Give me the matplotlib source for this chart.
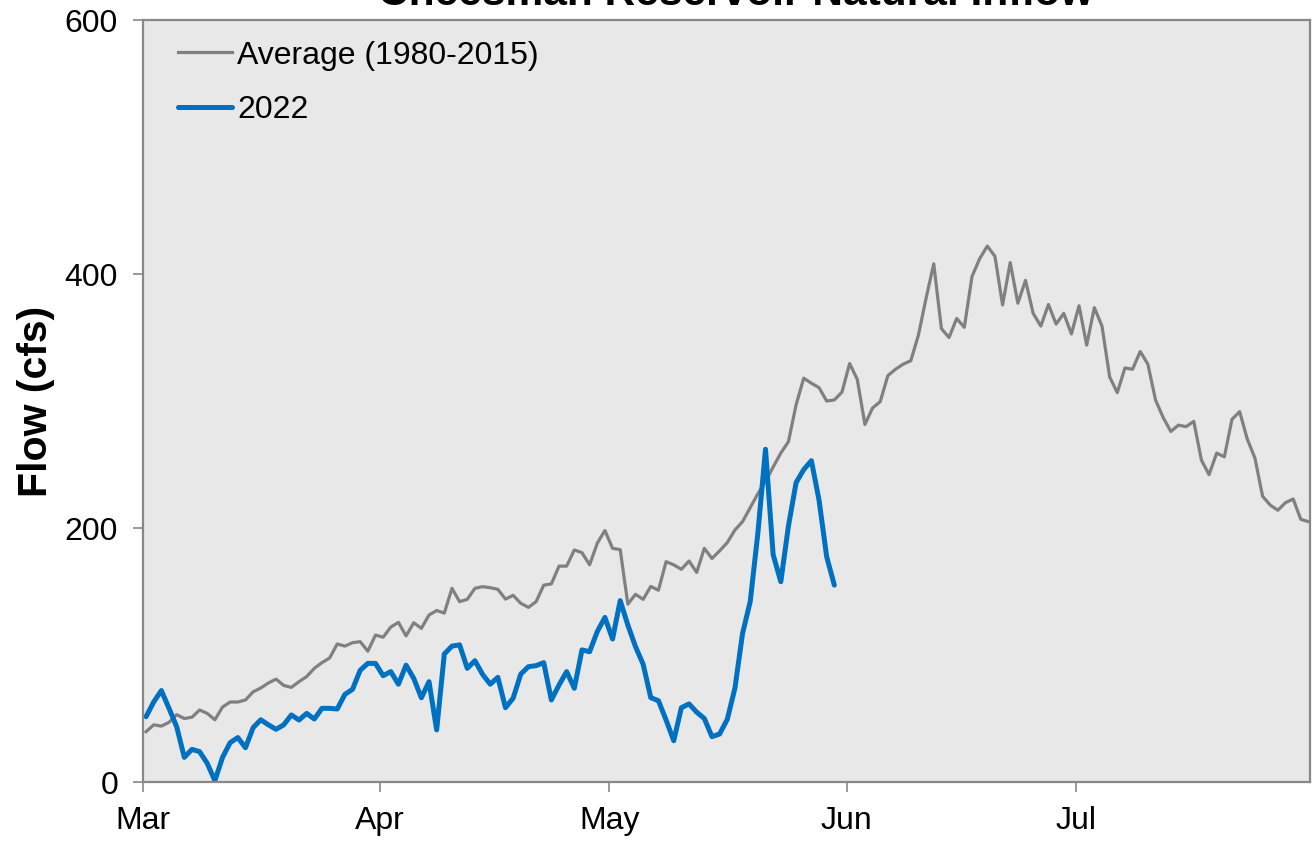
import numpy as np
import matplotlib
matplotlib.use("Agg")
import matplotlib.pyplot as plt

plt.rcParams['font.family'] = ['Liberation Sans', 'DejaVu Sans']

# Daily natural inflow (cfs), starting Mar 1
AVERAGE = [
    39.6, 45, 44, 47, 53, 50, 51, 56.7, 54, 49,
    59, 63, 63, 64.6, 71, 74, 78, 81, 76, 74.5,
    79, 83, 89.5, 94, 97.6, 108.7, 107, 109.7, 110.5, 103,
    115.7, 114, 122, 125.7, 115, 125.4, 121, 131.5, 135, 133,
    152.5, 142, 143.8, 152.5, 153.8, 153, 151.7, 144, 147, 140.7,
    137.5, 142, 155, 156, 170, 170, 182.7, 180.6, 171, 188,
    198, 184, 183, 140, 147.8, 143.8, 154, 151, 173.5, 171,
    167.5, 174, 165, 184, 176, 182, 188.5, 198.4, 205, 216,
    227, 236.5, 248, 259, 268, 297, 318, 314, 310.5, 300,
    300.8, 307, 329.5, 317, 281.5, 294.5, 299.5, 320, 325, 329,
    331.7, 352, 381, 408, 357, 350, 365, 358, 398, 412,
    422, 414, 375.6, 409, 377, 395, 369, 359, 376, 360.6,
    369, 352.8, 375, 344, 373.5, 359, 319, 306.6, 326, 325,
    339, 329, 300.8, 287, 276, 281, 279.8, 284, 253.5, 242,
    259, 256, 285.6, 291.6, 270, 255, 225, 218, 214, 220,
    222.8, 206.8, 205,
]

Y2022 = [
    51.4, 63, 72, 58, 43.6, 19.4, 25.7, 23.9, 14.7, 1,
    19.4, 31, 35, 27, 42.8, 49, 45, 41.5, 45, 52.8,
    48.8, 54, 49.6, 58, 58, 57.5, 69, 73, 88, 93.4,
    93.4, 83.7, 86.9, 77, 92, 81.6, 66.3, 79, 41, 100.8,
    107, 108, 89.5, 95.5, 84.8, 77, 82.4, 58.5, 66, 85,
    90.8, 91.6, 94, 64.6, 76.4, 86.9, 73.8, 104, 102.6, 118.4,
    129.6, 112.6, 142.8, 123.6, 106.6, 92.7, 66.4, 64, 48.8, 32.5,
    58.5, 61.5, 55, 50, 35.7, 37.8, 49.3, 73.8, 117, 142,
    195.8, 262, 179, 157.7, 201.6, 235.7, 246, 253, 222, 177.4,
    155,
]

MONTH_STARTS = [0, 31, 61, 92, 122]
MONTH_LABELS = ["Mar", "Apr", "May", "Jun", "Jul"]
Y_TICKS = [0, 200, 400, 600]

fig = plt.figure(figsize=(13.16, 8.42), dpi=100)
ax = fig.add_axes([143 / 1316, 60 / 842, 1167 / 1316, 762 / 842])
ax.set_facecolor("#E8E8E8")

ax.plot(np.arange(len(AVERAGE)), AVERAGE, color="#808080", lw=2.3,
        label="Average (1980-2015)", solid_joinstyle="round")
ax.plot(np.arange(len(Y2022)), Y2022, color="#0070C0", lw=3.6,
        label="2022", solid_joinstyle="round", solid_capstyle="round")

# month ticks sit a bit before the first sample of each month (Excel date axis)
ax.set_xlim(-0.4, 152.2)
ax.set_ylim(0, 600)
ax.set_xticks([m - 0.4 for m in MONTH_STARTS])
ax.set_xticklabels(MONTH_LABELS)
ax.set_yticks(Y_TICKS)

for sp in ax.spines.values():
    sp.set_color("#888888")
    sp.set_linewidth(1.6)
ax.tick_params(axis="both", colors="#888888", labelcolor="black",
               labelsize=23, length=7, width=1.2, direction="out")
ax.tick_params(axis="y", pad=11)
ax.tick_params(axis="x", pad=10)

ax.set_ylabel("Flow (cfs)", fontsize=29.5, fontweight="bold")
ax.yaxis.set_label_coords(-0.0754, 0.5)

fig.text(736 / 1316, 1 - 5 / 842, "Cheesman Reservoir Natural Inflow",
         ha="center", va="baseline", fontsize=30.6, fontweight="bold")

ax.legend(loc="upper left", bbox_to_anchor=(0.030, 0.973), frameon=False,
          fontsize=23, handlelength=1.69, handletextpad=0.16,
          labelspacing=0.78, borderaxespad=0.0, borderpad=0.0)

fig.savefig("out.png", dpi=100)
